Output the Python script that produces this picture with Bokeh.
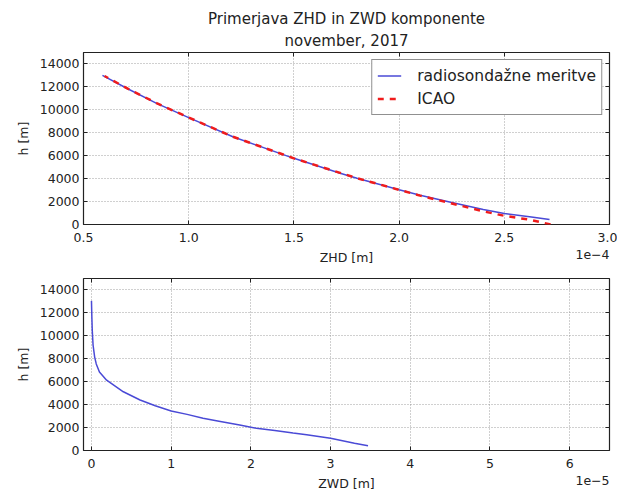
from bokeh.plotting import figure
from bokeh.layouts import column
from bokeh.models import (Range1d, LinearAxis, Title, Label, Legend, LegendItem, FixedTicker,
                          PrintfTickFormatter)
from bokeh.embed import file_html
from bokeh.resources import INLINE

# ---- data (ZHD in units of 1e-4 m, ZWD in units of 1e-5 m, h in m) ----
rs_zhd = [2.715, 2.62, 2.50, 2.40, 2.24, 2.10, 2.00, 1.80, 1.72, 1.50, 1.21, 1.00, 0.85, 0.71, 0.59]
rs_h = [430, 680, 950, 1300, 1960, 2550, 3030, 4040, 4470, 5770, 7650, 9320, 10540, 11840, 13000]

icao_zhd = [2.72, 2.62, 2.50, 2.40, 2.24, 2.10, 2.00, 1.80, 1.50, 1.21, 1.00, 0.85, 0.71, 0.60]
icao_h = [0, 420, 760, 1150, 1880, 2520, 3020, 4040, 5770, 7650, 9330, 10560, 11850, 12950]

rs_zwd = [3.47, 3.30, 3.00, 2.70, 2.53, 2.30, 2.07, 1.86, 1.60, 1.40, 1.20, 1.00, 0.80, 0.61,
          0.40, 0.19, 0.10, 0.06, 0.04, 0.02, 0.01, 0.005, 0.0]
zwd_h = [410, 640, 1075, 1370, 1520, 1735, 1940, 2230, 2560, 2810, 3150, 3450, 3900, 4400,
         5120, 6130, 6850, 7550, 8150, 9200, 10470, 11600, 13050]

zhd_ticks = [0.5, 1.0, 1.5, 2.0, 2.5, 3.0]
zwd_ticks = [0, 1, 2, 3, 4, 5, 6]
h_ticks = [0, 2000, 4000, 6000, 8000, 10000, 12000, 14000]

title_main = "Primerjava ZHD in ZWD komponente"
title_sub = "november, 2017"
labels = ["radiosondažne meritve", "ICAO"]

FONT = "DejaVu Sans"
TICK_FS = "12.5px"
FW, FH = 526, 172
H_MAX = 15000


def make_fig(xr, xticks, xfmt, xlabel, offset_text, top_border):
    p = figure(frame_width=FW, frame_height=FH, x_range=xr, y_range=Range1d(0, H_MAX),
               output_backend="svg", toolbar_location=None, title=None,
               min_border_left=83, min_border_right=8, min_border_top=top_border,
               min_border_bottom=30)
    p.background_fill_color = "white"
    p.border_fill_color = "white"
    p.outline_line_color = "#222222"
    p.outline_line_width = 1.2
    p.xaxis.ticker = FixedTicker(ticks=xticks)
    p.xaxis.formatter = PrintfTickFormatter(format=xfmt)
    p.yaxis.ticker = FixedTicker(ticks=h_ticks)
    p.xaxis.axis_label = xlabel
    p.yaxis.axis_label = "h [m]"
    for ax in [p.xaxis[0], p.yaxis[0]]:
        ax.axis_line_color = None
        ax.major_tick_in = 4
        ax.major_tick_out = 0
        ax.major_tick_line_color = "#222222"
        ax.minor_tick_line_color = None
        ax.major_label_text_font = FONT
        ax.major_label_text_font_size = TICK_FS
        ax.major_label_text_color = "#222222"
        ax.axis_label_text_font = FONT
        ax.axis_label_text_font_size = TICK_FS
        ax.axis_label_text_font_style = "normal"
        ax.axis_label_text_color = "#222222"
    p.xaxis.major_label_standoff = 8
    p.yaxis.major_label_standoff = 4
    p.xaxis.axis_label_standoff = 5
    p.yaxis.axis_label_standoff = 6
    p.yaxis.major_label_orientation = "horizontal"
    for g in [p.xgrid[0], p.ygrid[0]]:
        g.grid_line_color = "#888888"
        g.grid_line_dash = "1 2"
        g.grid_line_width = 0.8
    # inward ticks on right and top (no labels)
    for loc, tk in [("right", h_ticks), ("above", xticks)]:
        a = LinearAxis(ticker=FixedTicker(ticks=tk), axis_line_color=None,
                       major_tick_in=4, major_tick_out=0, major_tick_line_color="#222222",
                       minor_tick_line_color=None, major_label_standoff=0,
                       major_label_overrides={t: "" for t in tk})
        p.add_layout(a, loc)
    # offset text (e.g. 1e-4) at the right end, below the tick labels
    off = Label(x=xr.end, y=-30 * H_MAX / FH, x_units="data", y_units="data", text=offset_text,
                text_align="right", text_baseline="middle", text_font_size=TICK_FS,
                text_color="#222222")
    off.text_font = FONT
    p.add_layout(off, "below")
    return p


p1 = make_fig(Range1d(0.5, 3.0), zhd_ticks, "%.1f", "ZHD [m]", "1e\u22124", 52)
r1 = p1.line(rs_zhd, rs_h, line_color="#4a4ad6", line_width=1.5)
r2 = p1.line(icao_zhd, icao_h, line_color="#f01c1c", line_width=2.5, line_dash="6 6")
p1.add_layout(Title(text=title_sub, align="center", text_font=FONT, text_font_size="15px",
                    text_font_style="normal", text_color="#222222", standoff=5), "above")
p1.add_layout(Title(text=title_main, align="center", text_font=FONT, text_font_size="15px",
                    text_font_style="normal", text_color="#222222", standoff=0), "above")
leg = Legend(items=[LegendItem(label=labels[0], renderers=[r1]),
                    LegendItem(label=labels[1], renderers=[r2])],
             location="top_right", margin=7, padding=5, spacing=2,
             label_height=21, glyph_height=21, glyph_width=24, label_standoff=16,
             label_text_font=FONT, label_text_font_size="15.5px", label_text_color="#222222",
             border_line_color="#222222", border_line_width=1.2,
             background_fill_color="white", background_fill_alpha=1.0)
p1.add_layout(leg)

p2 = make_fig(Range1d(-0.1, 6.5), zwd_ticks, "%d", "ZWD [m]", "1e\u22125", 2)
p2.line(rs_zwd, zwd_h, line_color="#4a4ad6", line_width=1.5)

layout = column(p1, p2, spacing=0)
open("out.html", "w").write(file_html(layout, INLINE))
